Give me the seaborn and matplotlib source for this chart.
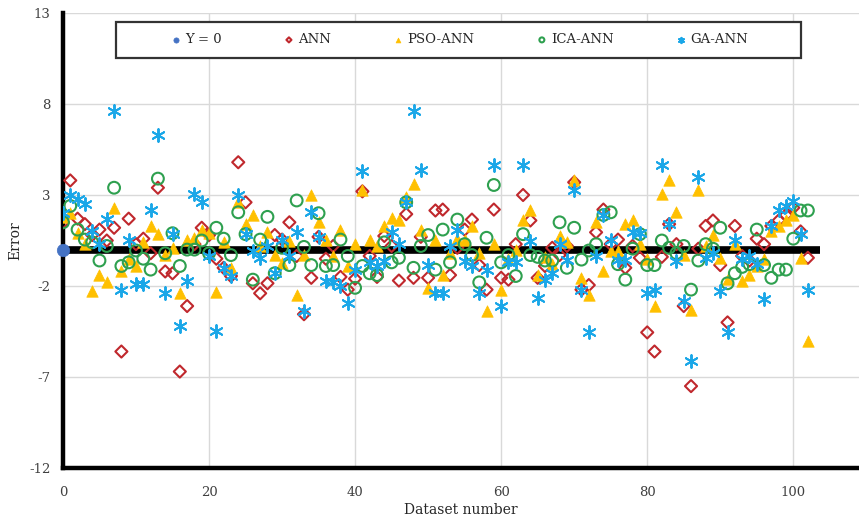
import numpy as np
import pandas as pd
import matplotlib
matplotlib.use("Agg")
import matplotlib.pyplot as plt
from matplotlib.patches import Rectangle
import seaborn as sns

# ---- data (dataset number 0..102) ----
dataset = list(range(103))

ann = [1.5, 3.8, 1.7, 1.4, 0.8, 1.1, 0.5, 1.2, -5.6, 1.7,
       0.3, 0.6, -0.2, 3.4, -1.2, -1.3, -6.7, -3.1, 0.3, 1.2,
       0.8, -0.5, -1.0, -1.45, 4.8, 2.6, -1.85, -2.4, -1.85, 0.8,
       0.55, 1.5, -0.35, -3.55, -1.55, 0.7, -0.5, 0.2, -1.5, -2.2,
       -1.6, 3.2, -0.35, -1.5, 0.75, 0.2, -1.7, 1.95, -1.55, 0.7,
       -1.55, 2.15, 2.2, -1.4, 0.1, 1.1, 1.65, -0.85, -2.2, 2.2,
       -1.55, -1.65, 0.3, 3.0, 1.6, -1.55, -0.9, 0.1, -0.3, 0.2,
       3.7, -2.2, -1.95, 0.95, 2.2, 0.3, 0.55, -1.0, 0.2, -0.45,
       -4.55, -5.6, -0.4, 1.4, 0.3, -3.1, -7.5, 0.05, 1.3, 1.6,
       -0.85, -4.0, 1.3, -0.35, -0.6, 0.6, 0.3, 1.3, 1.6, 1.9,
       2.3, 1.0, -0.45]

pso_ann = [1.8, 2.0, 0.9, 0.3, -2.3, -1.4, -1.8, 2.3, -1.2, -0.5,
           -0.9, 0.4, 1.3, 0.85, -0.3, 0.1, -2.4, 0.55, 0.65, 1.1,
           0.9, -2.35, 0.4, -1.0, 2.6, 1.4, 1.9, 0.2, 0.95, -0.3,
           -0.75, 0.5, -2.5, -0.3, 3.0, 1.5, 0.55, -0.35, 1.1, -0.9,
           0.3, 3.3, 0.55, 0.2, 1.3, 1.75, 1.65, 2.9, 3.6, 1.1,
           -2.1, 0.55, -1.4, -0.2, 0.6, 0.55, 1.3, -0.2, -3.4, 0.3,
           -2.2, -0.5, 0.0, 1.6, 2.15, -1.4, -0.4, -0.8, 0.75, 0.4,
           3.8, -1.55, -2.5, 1.5, -1.2, -0.1, -0.1, 1.4, 1.65, 0.3,
           -0.5, -3.1, 3.05, 3.8, 2.05, -0.3, -3.3, 3.3, 0.2, 0.8,
           -0.45, -1.6, 0.3, -1.75, -1.4, -0.9, -0.5, 1.0, 1.3, 1.6,
           1.9, -0.45, -5.0]

ica_ann = [1.5, 2.4, 1.1, 0.55, 0.4, -0.6, 0.2, 3.4, -0.9, -0.7,
           -0.05, -0.5, -1.1, 3.9, -0.2, 0.9, -0.9, 0.0, 0.0, 0.5,
           -0.2, 1.2, 0.6, -0.3, 2.05, 0.85, -1.65, 0.55, 1.8, -1.3,
           0.1, -0.85, 2.7, 0.15, -0.85, 2.0, -0.9, -0.85, 0.55, -0.35,
           -2.1, -0.9, -1.3, -1.4, 0.4, -0.7, -0.45, 2.6, -1.0, 0.2,
           0.8, -1.1, 1.1, -0.7, 1.65, 0.3, -0.3, -1.8, 0.65, 3.55,
           -0.7, -0.3, -1.45, 0.85, -0.3, -0.4, -0.6, -0.6, 1.5, -1.0,
           1.2, -0.55, -0.05, 0.3, 1.9, 2.05, -0.8, -1.65, 0.05, 0.85,
           -0.85, -0.85, 0.5, 0.1, -0.2, 0.2, -2.2, -0.6, 0.3, 0.05,
           1.2, -1.85, -1.3, -0.95, -0.8, 1.1, -0.85, -1.55, -1.1, -1.1,
           0.6, 2.15, 2.15]

ga_ann = [2.0, 3.0, 2.8, 2.5, 1.0, 0.3, 1.7, 7.6, -2.2, 0.55,
          -1.9, -1.9, 2.2, 6.3, -2.4, 0.85, -4.2, -1.7, 3.05, 2.6,
          -0.35, -4.45, -1.0, -1.45, 3.0, 0.85, -0.05, -0.45, 0.2, -1.3,
          0.55, -0.35, 0.95, -3.4, 2.05, 0.7, -1.7, -1.8, -2.0, -2.95,
          -1.1, 4.3, -0.7, -0.9, -0.6, 0.95, 0.3, 2.6, 7.6, 4.4,
          -0.85, -2.4, -2.4, 0.2, 1.1, -0.6, -0.9, -2.4, -1.1, 4.65,
          -3.1, -0.7, -0.7, 4.65, 0.5, -2.65, -1.65, -1.3, 0.3, -0.55,
          3.3, -2.2, -4.5, -0.35, 1.9, 0.55, -0.55, -0.55, 0.95, 0.9,
          -2.4, -2.2, 4.65, 1.4, -0.65, -2.85, -6.1, 4.0, -0.45, -0.2,
          -2.3, -4.5, 0.55, -0.5, -0.35, -0.8, -2.7, 1.3, 2.2, 2.4,
          2.65, 0.85, -2.2]

zero_x = [0]
zero_y = [0]

x_ticks = [0, 20, 40, 60, 80, 100]
y_ticks = [-12, -7, -2, 3, 8, 13]

# ---- style ----
sns.set_theme(style="white")
plt.rcParams["font.family"] = ["DejaVu Serif"]
plt.rcParams["axes.unicode_minus"] = False

fig = plt.figure(figsize=(8.59, 5.29), dpi=100)
ax = fig.add_axes([0.0733, 0.1153, 0.9267, 0.8601])

# gridlines
for xv in x_ticks[1:]:
    ax.axvline(xv, color="#d9d9d9", lw=1, zorder=0)
for yv in y_ticks:
    ax.axhline(yv, color="#d9d9d9", lw=1, zorder=0)

# thick zero line
ax.plot([0, 103.6], [0, 0], color="black", lw=5.5, solid_capstyle="butt", zorder=1.5)

series = [
    ("ANN", ann, dict(marker="D", s=38, facecolor="none", edgecolor="#c0282d", linewidth=1.5)),
    ("PSO-ANN", pso_ann, dict(marker="^", s=68, color="#ffc000", edgecolor="#ffc000", linewidth=0.5)),
    ("ICA-ANN", ica_ann, dict(marker="o", s=72, facecolor="none", edgecolor="#2ea04f", linewidth=1.5)),
    ("GA-ANN", ga_ann, dict(marker=(6, 2, 0), s=85, color="#1aa7e8", edgecolor="#1aa7e8", linewidth=1.4)),
]

df_zero = pd.DataFrame({"x": zero_x, "y": zero_y})
sns.scatterplot(data=df_zero, x="x", y="y", ax=ax, marker="o", s=80,
                color="#4472c4", edgecolor="#4472c4", linewidth=0.5,
                label="Y = 0", zorder=6, clip_on=False)

for name, vals, kw in series:
    df = pd.DataFrame({"x": dataset, "y": vals})
    sns.scatterplot(data=df, x="x", y="y", ax=ax, label=name, zorder=3, **kw)

ax.set_xlim(0, 109)
ax.set_ylim(-12, 13)
ax.set_xticks(x_ticks)
ax.set_yticks(y_ticks)
ax.tick_params(axis="both", length=0, labelsize=9.5, colors="#404040")
ax.tick_params(axis="x", pad=13)
ax.tick_params(axis="y", pad=9)
ax.set_xlabel("Dataset number", fontsize=10, color="#262626", labelpad=3)
ax.set_ylabel("Error", fontsize=10, color="#262626", labelpad=5)

for side in ["top", "right"]:
    ax.spines[side].set_visible(False)
for side in ["left", "bottom"]:
    ax.spines[side].set_color("black")
    ax.spines[side].set_linewidth(3.2)
    ax.spines[side].set_zorder(2)

# legend box + legend
box = Rectangle((0.0667, 0.902), 0.86, 0.078, transform=ax.transAxes,
                facecolor="white", edgecolor="#333333", lw=1.6, zorder=8)
ax.add_patch(box)
leg = ax.legend(loc="center", bbox_to_anchor=(0.497, 0.941), ncol=5, frameon=False,
                fontsize=9.5, markerscale=0.42, handletextpad=0.2, columnspacing=4.6,
                handlelength=1.0)
leg.set_zorder(9)

fig.savefig("out.png", dpi=100)
